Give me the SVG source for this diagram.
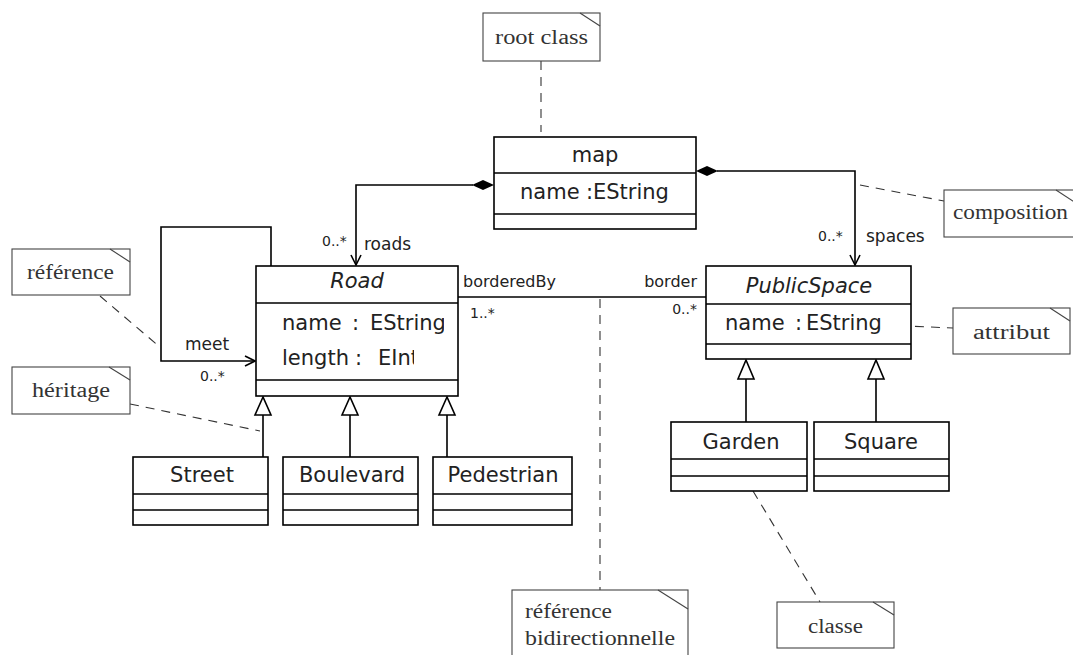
<svg xmlns="http://www.w3.org/2000/svg" width="1073" height="655" viewBox="0 0 1073 655">
<style>
.box{fill:#fff;stroke:#000;stroke-width:1.6}
.div{stroke:#000;stroke-width:1.6}
.note{fill:#fff;stroke:#444;stroke-width:1.1}
.cn{fill:none;stroke:#444;stroke-width:1.1}
.dash{fill:none;stroke:#333;stroke-width:1.1;stroke-dasharray:9,7}
.ln{fill:none;stroke:#000;stroke-width:1.6}
.t{font-family:"DejaVu Sans",sans-serif;font-size:21px;fill:#222}
.s{font-family:"DejaVu Sans",sans-serif;font-size:17px;fill:#222}
.b{font-family:"DejaVu Sans",sans-serif;font-size:16px;fill:#222}
.m{font-family:"DejaVu Sans",sans-serif;font-size:14px;fill:#222}
.n{font-family:"Liberation Serif","DejaVu Serif",serif;font-size:20px;fill:#333}
.i{font-style:italic}
.tri{fill:#fff;stroke:#000;stroke-width:1.6}
.dia{fill:#000}
</style>
<defs>
<marker id="open" markerWidth="14" markerHeight="14" refX="12" refY="7" orient="auto" markerUnits="userSpaceOnUse">
<path d="M2,2 L12,7 L2,12" fill="none" stroke="#000" stroke-width="1.6"/>
</marker>
<clipPath id="c1"><rect x="256" y="305" width="188" height="35"/></clipPath>
<clipPath id="c2"><rect x="256" y="341" width="158" height="35"/></clipPath>
</defs>

<g id="connectors">
<path class="dash" d="M541,61 L541,132"/>
<path class="ln" d="M473,185 L356,185 L356,265" marker-end="url(#open)"/>
<polygon class="dia" points="494,185 483,180 472,185 483,190"/>
<path class="ln" d="M717,171 L855,171 L855,265" marker-end="url(#open)"/>
<polygon class="dia" points="696,171 707,166 718,171 707,176"/>
<path class="ln" d="M271,266 L271,227 L161,227 L161,361 L255,361" marker-end="url(#open)"/>
<path class="ln" d="M458,297 L706,297"/>
<path class="dash" d="M600,299 L600,590"/>
<path class="dash" d="M860,185 L944,201"/>
<path class="dash" d="M883,325 L953,328"/>
<path class="dash" d="M100,296 L161,348"/>
<path class="dash" d="M130,404 L260,431"/>
<path class="dash" d="M753,491 L820,602"/>
<path class="ln" d="M263,415 L263,457 M350,415 L350,457 M447,415 L447,457"/>
<polygon class="tri" points="263,397 255,415 271,415"/>
<polygon class="tri" points="350,397 342,415 358,415"/>
<polygon class="tri" points="447,397 439,415 455,415"/>
<path class="ln" d="M746,379 L746,422 M876,379 L876,422"/>
<polygon class="tri" points="746,360 738,379 754,379"/>
<polygon class="tri" points="876,360 868,379 884,379"/>
<text class="m" x="322" y="246">0..*</text>
<text class="s" x="364" y="250">roads</text>
<text class="m" x="818" y="241">0..*</text>
<text class="s" x="866" y="242">spaces</text>
<text class="s" x="185" y="350">meet</text>
<text class="m" x="200" y="381">0..*</text>
<text class="b" x="463" y="287">borderedBy</text>
<text class="b" x="697" y="287" text-anchor="end">border</text>
<text class="m" x="470" y="318">1..*</text>
<text class="m" x="697" y="314" text-anchor="end">0..*</text>
</g>

<g id="note-root">
<rect class="note" x="483" y="13" width="117" height="48"/>
<path class="cn" d="M580,13 L600,26"/>
<text class="n" x="495" y="44" textLength="93" lengthAdjust="spacingAndGlyphs">root class</text>
</g>

<g id="map">
<rect class="box" x="494" y="137" width="202" height="92"/>
<path class="div" d="M494,173 L696,173 M494,214 L696,214"/>
<text class="t" x="595" y="162" text-anchor="middle">map</text>
<text class="t" x="520" y="199">name</text>
<text class="t" x="586" y="199">:</text>
<text class="t" x="593" y="199">EString</text>
</g>

<g id="road">
<rect class="box" x="256" y="266" width="202" height="130"/>
<path class="div" d="M256,303 L458,303 M256,380 L458,380"/>
<text class="t i" x="357" y="288" text-anchor="middle">Road</text>
<g clip-path="url(#c1)"><text class="t" x="282" y="330">name</text><text class="t" x="352" y="330">:</text><text class="t" x="370" y="330">EString</text></g>
<g clip-path="url(#c2)"><text class="t" x="282" y="365">length</text><text class="t" x="355" y="365">:</text><text class="t" x="378" y="365">EInt</text></g>
</g>

<g id="publicspace">
<rect class="box" x="706" y="266" width="205" height="93"/>
<path class="div" d="M706,304 L911,304 M706,344 L911,344"/>
<text class="t i" x="809" y="293" text-anchor="middle">PublicSpace</text>
<text class="t" x="725" y="330">name</text>
<text class="t" x="795" y="330">:</text>
<text class="t" x="806" y="330">EString</text>
</g>

<g id="street">
<rect class="box" x="133" y="457" width="135" height="68"/>
<path class="div" d="M133,494 L268,494 M133,510 L268,510"/>
<text class="t" x="202" y="482" text-anchor="middle">Street</text>
</g>
<g id="boulevard">
<rect class="box" x="283" y="457" width="135" height="68"/>
<path class="div" d="M283,494 L418,494 M283,510 L418,510"/>
<text class="t" x="352" y="482" text-anchor="middle">Boulevard</text>
</g>
<g id="pedestrian">
<rect class="box" x="433" y="457" width="139" height="68"/>
<path class="div" d="M433,494 L572,494 M433,510 L572,510"/>
<text class="t" x="503" y="482" text-anchor="middle">Pedestrian</text>
</g>
<g id="garden">
<rect class="box" x="671" y="422" width="136" height="69"/>
<path class="div" d="M671,459 L807,459 M671,476 L807,476"/>
<text class="t" x="741" y="449" text-anchor="middle">Garden</text>
</g>
<g id="square">
<rect class="box" x="814" y="422" width="135" height="69"/>
<path class="div" d="M814,459 L949,459 M814,476 L949,476"/>
<text class="t" x="881" y="449" text-anchor="middle">Square</text>
</g>

<g id="note-composition">
<rect class="note" x="944" y="190" width="135" height="47"/>
<path class="cn" d="M1056,190 L1076,203"/>
<text class="n" x="953" y="219" textLength="115" lengthAdjust="spacingAndGlyphs">composition</text>
</g>
<g id="note-attribut">
<rect class="note" x="953" y="308" width="117" height="46"/>
<path class="cn" d="M1050,308 L1070,321"/>
<text class="n" x="973" y="339" textLength="77" lengthAdjust="spacingAndGlyphs">attribut</text>
</g>
<g id="note-reference">
<rect class="note" x="12" y="249" width="118" height="46"/>
<path class="cn" d="M110,249 L130,262"/>
<text class="n" x="27" y="279" textLength="87" lengthAdjust="spacingAndGlyphs">référence</text>
</g>
<g id="note-heritage">
<rect class="note" x="12" y="367" width="118" height="47"/>
<path class="cn" d="M109,367 L130,380"/>
<text class="n" x="32" y="397" textLength="78" lengthAdjust="spacingAndGlyphs">héritage</text>
</g>
<g id="note-bidir">
<rect class="note" x="512" y="590" width="176" height="80"/>
<path class="cn" d="M658,590 L688,609"/>
<text class="n" x="525" y="618" textLength="87" lengthAdjust="spacingAndGlyphs">référence</text>
<text class="n" x="525" y="645" textLength="150" lengthAdjust="spacingAndGlyphs">bidirectionnelle</text>
</g>
<g id="note-classe">
<rect class="note" x="777" y="602" width="117" height="46"/>
<path class="cn" d="M873,602 L894,615"/>
<text class="n" x="808" y="633" textLength="55" lengthAdjust="spacingAndGlyphs">classe</text>
</g>
</svg>
